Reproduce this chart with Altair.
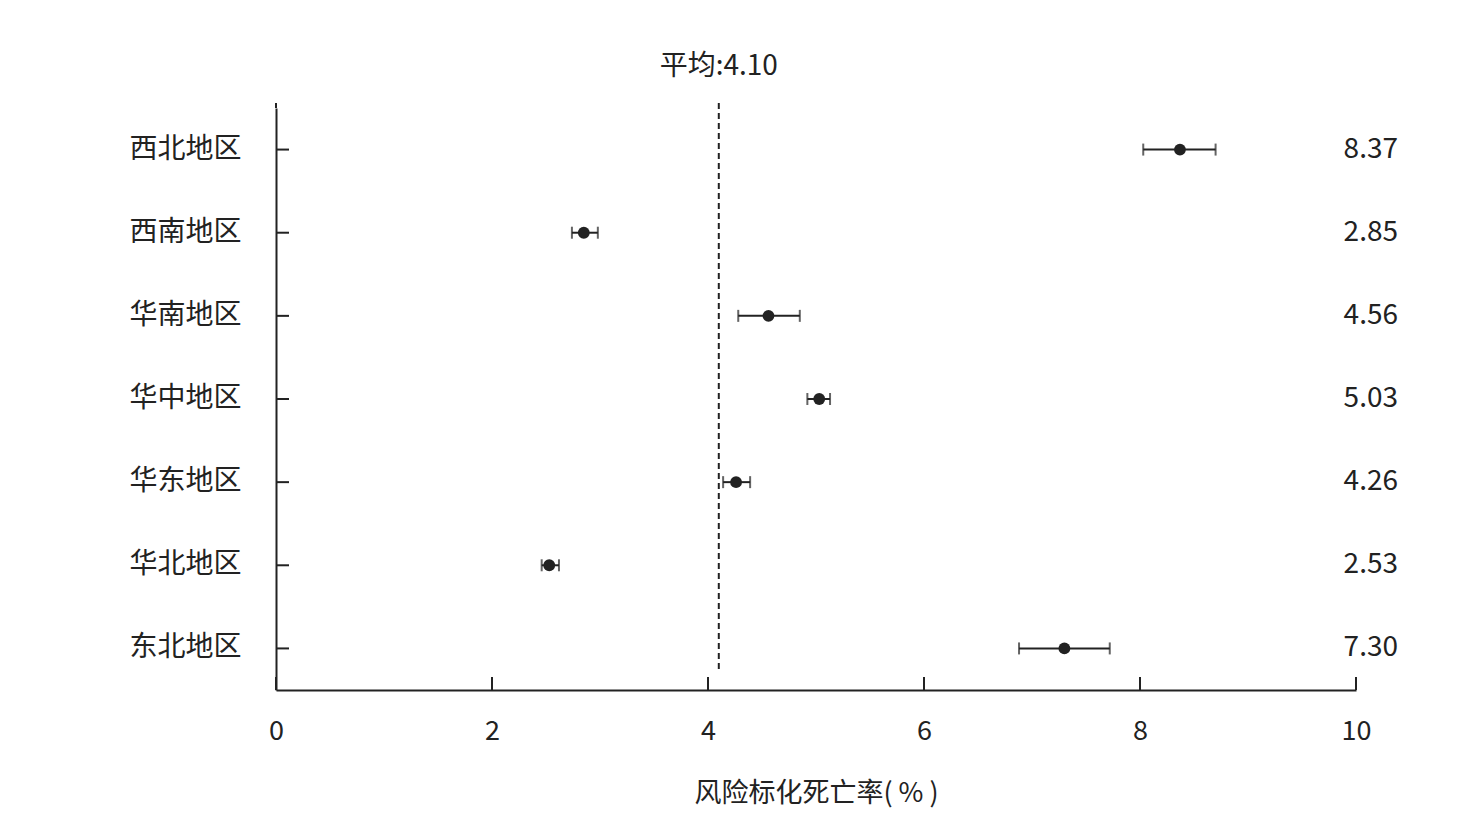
import altair as alt
import pandas as pd

# 各地区风险标化死亡率及95%CI
regions = ["西北地区", "西南地区", "华南地区", "华中地区", "华东地区", "华北地区", "东北地区"]
rate = [8.37, 2.85, 4.56, 5.03, 4.26, 2.53, 7.30]
lower = [8.03, 2.74, 4.28, 4.92, 4.14, 2.46, 6.88]
upper = [8.70, 2.98, 4.85, 5.13, 4.39, 2.62, 7.72]
mean_rate = 4.10
x_ticks = [0, 2, 4, 6, 8, 10]

W, H = 1080, 582
FONT = "Noto Sans CJK SC"
INK = "#222222"

df = pd.DataFrame({"region": regions, "rate": rate, "lower": lower, "upper": upper})
df["label"] = df["rate"].map(lambda v: f"{v:.2f}")
ticks_df = pd.DataFrame({"t": x_ticks})
mean_df = pd.DataFrame({"mean": [mean_rate], "label": [f"平均:{mean_rate:.2f}"]})

x_scale = alt.Scale(domain=[0, 10], nice=False)
y_scale = alt.Scale(domain=regions, paddingInner=0, paddingOuter=0)

x_axis = alt.Axis(values=x_ticks, format="d", labelFlush=False, ticks=False, tickSize=0,
                  grid=False, labelPadding=28, title="风险标化死亡率( % )", titlePadding=36)
y_axis = alt.Axis(ticks=False, tickSize=0, grid=False, labelPadding=35, labelFontSize=28, title=None)

base = alt.Chart(df)

bars = base.mark_rule(color=INK, strokeWidth=2).encode(
    x=alt.X("lower:Q", scale=x_scale, axis=x_axis),
    x2="upper:Q",
    y=alt.Y("region:N", scale=y_scale, axis=y_axis, sort=regions),
)
cap_lo = base.mark_tick(color=INK, size=12, thickness=2).encode(
    x=alt.X("lower:Q", scale=x_scale), y=alt.Y("region:N", sort=regions)
)
cap_hi = base.mark_tick(color=INK, size=12, thickness=2).encode(
    x=alt.X("upper:Q", scale=x_scale), y=alt.Y("region:N", sort=regions)
)
dots = base.mark_circle(color=INK, opacity=1, size=140).encode(
    x=alt.X("rate:Q", scale=x_scale), y=alt.Y("region:N", sort=regions)
)
values = base.mark_text(font=FONT, fontSize=28, color=INK, align="right", baseline="middle").encode(
    x=alt.value(W + 42), y=alt.Y("region:N", sort=regions), text="label:N"
)

# inward ticks
y_ticks = base.mark_rule(color=INK, strokeWidth=2).encode(
    x=alt.value(0), x2=alt.value(13), y=alt.Y("region:N", sort=regions)
)
x_tick_marks = alt.Chart(ticks_df).mark_rule(color=INK, strokeWidth=2).encode(
    x=alt.X("t:Q", scale=x_scale), y=alt.value(H), y2=alt.value(H - 13)
)
y_top = alt.Chart(mean_df).mark_rule(color=INK, strokeWidth=2).encode(
    x=alt.value(0), y=alt.value(-5), y2=alt.value(0)
)

mean_line = alt.Chart(mean_df).mark_rule(color=INK, strokeWidth=2, strokeDash=[6, 4]).encode(
    x=alt.X("mean:Q", scale=x_scale), y=alt.value(-5), y2=alt.value(H - 18)
)
mean_text = alt.Chart(mean_df).mark_text(font=FONT, fontSize=28, color=INK, baseline="middle").encode(
    x=alt.X("mean:Q", scale=x_scale), y=alt.value(-41), text="label:N"
)

chart = alt.layer(
    bars, cap_lo, cap_hi, dots, values, y_ticks, x_tick_marks, y_top, mean_line, mean_text
).properties(
    width=W, height=H,
    autosize=alt.AutoSizeParams(type="none"),
    padding={"left": 268, "top": 100, "right": 110, "bottom": 120},
).configure_view(stroke=None).configure_axis(
    domainColor=INK, domainWidth=2,
    labelFont=FONT, labelFontSize=27, labelColor=INK,
    titleFont=FONT, titleFontSize=27, titleColor=INK, titleFontWeight="normal",
)

chart.save("out.html", embed_options={"renderer": "svg", "actions": False})
